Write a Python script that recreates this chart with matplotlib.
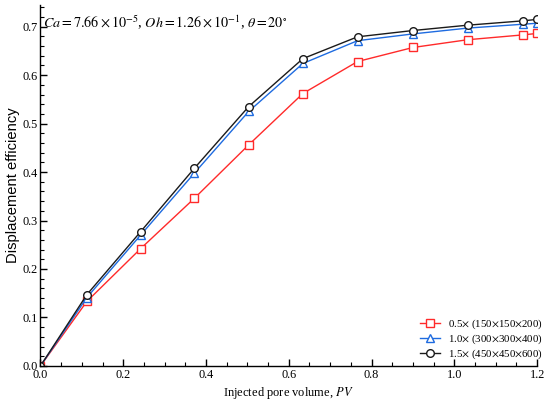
import numpy as np
import matplotlib.pyplot as plt
from matplotlib.ticker import MultipleLocator, FormatStrFormatter

plt.rcParams['font.family'] = ['Liberation Serif', 'DejaVu Serif']
plt.rcParams['mathtext.fontset'] = 'stix'

pv = [0.0, 0.112, 0.242, 0.372, 0.503, 0.634, 0.766, 0.900, 1.032, 1.166, 1.200]
eff_05 = [0.0, 0.133, 0.242, 0.346, 0.456, 0.562, 0.628, 0.657, 0.673, 0.683, 0.686]
eff_10 = [0.0, 0.141, 0.270, 0.398, 0.525, 0.624, 0.671, 0.685, 0.697, 0.705, 0.707]
eff_15 = [0.0, 0.147, 0.277, 0.408, 0.535, 0.634, 0.679, 0.692, 0.703, 0.712, 0.715]

labels = [r'0.5$\times$ (150$\times$150$\times$200)',
          r'1.0$\times$ (300$\times$300$\times$400)',
          r'1.5$\times$ (450$\times$450$\times$600)']

fig = plt.figure(figsize=(5.5, 4.03), dpi=100)
ax = fig.add_axes([0.0736, 0.092, 0.903, 0.896])

ax.plot(pv, eff_05, color='#ff2a2a', lw=1.0, marker='s', ms=5.5,
        mfc='white', mec='#ff2a2a', mew=1.0, label=labels[0])
ax.plot(pv, eff_10, color='#1e6be0', lw=1.0, marker='^', ms=5.5,
        mfc='white', mec='#1e6be0', mew=1.0, label=labels[1])
ax.plot(pv, eff_15, color='#1a1a1a', lw=1.0, marker='o', ms=5.5,
        mfc='white', mec='#1a1a1a', mew=1.0, label=labels[2])

ax.set_xlim(0, 1.2)
ax.set_ylim(0, 0.745)
ax.xaxis.set_major_locator(MultipleLocator(0.2))
ax.xaxis.set_minor_locator(MultipleLocator(0.05))
ax.yaxis.set_major_locator(MultipleLocator(0.1))
ax.yaxis.set_minor_locator(MultipleLocator(0.02))
ax.xaxis.set_major_formatter(FormatStrFormatter('%.1f'))
ax.yaxis.set_major_formatter(FormatStrFormatter('%.1f'))

for s in ['top', 'right']:
    ax.spines[s].set_visible(False)
for s in ['left', 'bottom']:
    ax.spines[s].set_linewidth(1.0)

ax.tick_params(which='major', direction='in', length=5, width=1.0,
               labelsize=8.8, pad=2)
ax.tick_params(which='minor', direction='in', length=3, width=0.8)

ax.set_xlabel('Injected pore volume, $PV$', fontsize=9, labelpad=3)
ax.set_ylabel('Displacement efficiency', fontsize=10.6,
              family=['Liberation Sans', 'DejaVu Sans'], labelpad=2)

ax.text(0.005, 0.976,
        r'$Ca = 7.66\times10^{-5}$, $Oh = 1.26\times10^{-1}$, $\theta = 20^{\circ}$',
        transform=ax.transAxes, fontsize=10.2, va='top', ha='left')

ax.legend(loc='lower right', frameon=False, fontsize=7.8,
          handlelength=1.9, handletextpad=0.7, labelspacing=0.15,
          borderaxespad=0, bbox_to_anchor=(0.9945, 0.0933),
          bbox_transform=fig.transFigure)

fig.savefig('out.png', dpi=100)
